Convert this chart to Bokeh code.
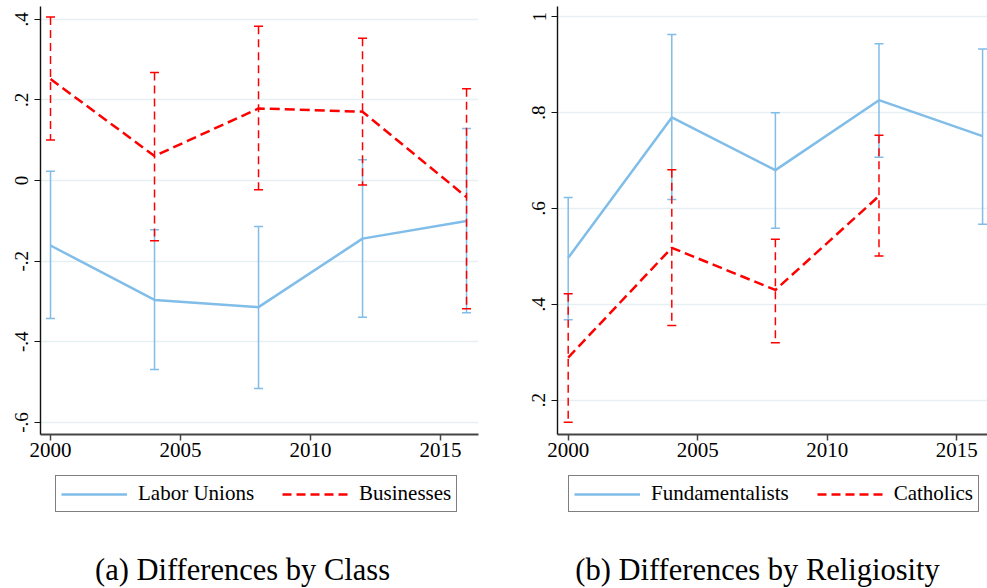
from bokeh.plotting import figure
from bokeh.layouts import row, column
from bokeh.models import (ColumnDataSource, FixedTicker, Legend, LegendItem,
                          Label, Range1d)
from bokeh.embed import file_html
from bokeh.resources import INLINE

# --- data -------------------------------------------------------------
years = [2000, 2004, 2008, 2012, 2016]

labor = [-0.161, -0.296, -0.314, -0.144, -0.100]
labor_lo = [-0.342, -0.469, -0.516, -0.339, -0.328]
labor_hi = [0.023, -0.122, -0.114, 0.052, 0.129]

business = [0.252, 0.061, 0.179, 0.171, -0.041]
business_lo = [0.101, -0.149, -0.023, -0.011, -0.318]
business_hi = [0.406, 0.268, 0.383, 0.353, 0.228]

fund = [0.497, 0.790, 0.680, 0.826, 0.751]
fund_lo = [0.368, 0.619, 0.559, 0.707, 0.567]
fund_hi = [0.623, 0.963, 0.800, 0.944, 0.933]

cath_years = [2000, 2004, 2008, 2012]
cath = [0.289, 0.518, 0.430, 0.626]
cath_lo = [0.154, 0.356, 0.320, 0.501]
cath_hi = [0.422, 0.681, 0.536, 0.753]

x_ticks = [2000, 2005, 2010, 2015]
left_y_ticks = [-0.6, -0.4, -0.2, 0, 0.2, 0.4]
left_y_labels = ["-.6", "-.4", "-.2", "0", ".2", ".4"]
right_y_ticks = [0.2, 0.4, 0.6, 0.8, 1.0]
right_y_labels = [".2", ".4", ".6", ".8", "1"]

# --- styling ----------------------------------------------------------
BLUE = "#80bde8"
RED = "#ff0000"
GRID = "#e6eff2"
FONT = "Liberation Serif"

TOP_H = 470      # height of the two chart panels
BOTTOM_H = 118   # strip that carries the legends and captions


def base_figure(width, border_left, border_right, x_range, y_range,
                y_ticks, y_labels):
    p = figure(width=width, height=TOP_H, output_backend="svg",
               toolbar_location=None, x_range=Range1d(*x_range),
               y_range=Range1d(*y_range),
               min_border_left=border_left, min_border_right=border_right,
               min_border_top=6, min_border_bottom=TOP_H - 434)
    p.outline_line_color = None
    p.background_fill_color = "white"
    p.border_fill_color = "white"

    p.xgrid.grid_line_color = None
    p.ygrid.grid_line_color = GRID
    p.ygrid.grid_line_width = 1.5

    p.xaxis.ticker = FixedTicker(ticks=x_ticks)
    p.yaxis.ticker = FixedTicker(ticks=y_ticks)
    p.yaxis.major_label_overrides = {t: l for t, l in zip(y_ticks, y_labels)}
    p.yaxis.major_label_orientation = "parallel"

    for ax in (p.xaxis[0], p.yaxis[0]):
        ax.minor_tick_line_color = None
        ax.major_tick_in = 0
        ax.major_tick_out = 6
        ax.major_label_text_font = FONT
        ax.major_label_text_color = "black"
    p.xaxis.major_label_text_font_size = "21px"
    p.xaxis.major_label_standoff = 2
    p.yaxis.major_label_text_font_size = "19px"
    p.yaxis.major_label_standoff = 6
    p.yaxis.axis_line_color = "#111111"
    p.yaxis.axis_line_width = 1.4
    p.yaxis.major_tick_line_color = "#111111"
    p.xaxis.axis_line_color = "#444444"
    p.xaxis.axis_line_width = 2
    p.xaxis.major_tick_line_color = "#444444"
    p.xaxis.major_tick_line_width = 1.5
    return p


def add_series(p, xs, mid, lo, hi, color, dashed):
    src = ColumnDataSource(dict(x=xs, mid=mid, lo=lo, hi=hi))
    stem_dash = "8 5" if dashed else "solid"
    line_dash = "10 5" if dashed else "solid"
    p.segment(x0="x", y0="hi", x1="x", y1="lo", source=src,
              line_color=color, line_width=1.5, line_dash=stem_dash)
    p.scatter(x="x", y="hi", source=src, marker="dash", size=9,
              line_color=color, line_width=1.5)
    p.scatter(x="x", y="lo", source=src, marker="dash", size=9,
              line_color=color, line_width=1.5)
    p.line(x="x", y="mid", source=src, line_color=color,
           line_width=2.5, line_dash=line_dash)


# --- (a) class ---------------------------------------------------------
pa = base_figure(500, 40, 22, (1999.615, 2016.46), (-0.630, 0.432),
                 left_y_ticks, left_y_labels)
add_series(pa, years, labor, labor_lo, labor_hi, BLUE, False)
add_series(pa, years, business, business_lo, business_hi, RED, True)

# --- (b) religiosity ---------------------------------------------------
pb = base_figure(487, 57, 0, (1999.587, 2016.19), (0.1284, 1.0215),
                 right_y_ticks, right_y_labels)
add_series(pb, years, fund, fund_lo, fund_hi, BLUE, False)
add_series(pb, cath_years, cath, cath_lo, cath_hi, RED, True)

# --- legends and captions strip ----------------------------------------
# The strip's own ranges sit far from the series values, so the key lines
# carry the real series but stay out of view; only their legend glyphs show.
pc = figure(width=987, height=BOTTOM_H, output_backend="svg",
            toolbar_location=None, x_range=Range1d(0, 1),
            y_range=Range1d(0, 1), min_border=0)
pc.axis.visible = False
pc.grid.visible = False
pc.outline_line_color = None

solid_key = pc.line(x=years, y=labor, line_color=BLUE, line_width=2.5)
dash_key = pc.line(x=years, y=business, line_color=RED, line_width=2.5,
                   line_dash="9 5")


def add_legend(labels, x_left):
    # tuple location is the legend's bottom-left corner, measured from the
    # strip's bottom-left corner
    leg = Legend(items=[LegendItem(label=labels[0], renderers=[solid_key]),
                        LegendItem(label=labels[1], renderers=[dash_key])],
                 orientation="horizontal", location=(x_left, BOTTOM_H - 42),
                 label_text_font=FONT, label_text_font_size="21px",
                 label_text_color="black",
                 glyph_width=66, glyph_height=20, label_standoff=11,
                 spacing=28, padding=5, margin=0,
                 border_line_color="black", border_line_width=1.5,
                 background_fill_color="white", background_fill_alpha=1.0)
    pc.add_layout(leg, "center")


def add_caption(text, x_center):
    pc.add_layout(Label(x=x_center, y=19, x_units="screen",
                        y_units="screen", text=text, text_font=FONT,
                        text_font_size="30.5px", text_align="center",
                        text_baseline="middle", text_color="black"))


add_legend(["Labor Unions", "Businesses"], 55)
add_legend(["Fundamentalists", "Catholics"], 568)
add_caption("(a) Differences by Class", 242)
add_caption("(b) Differences by Religiosity", 757)

layout = column(row(pa, pb, spacing=0), pc, spacing=0)
open("out.html", "w").write(file_html(layout, INLINE))
